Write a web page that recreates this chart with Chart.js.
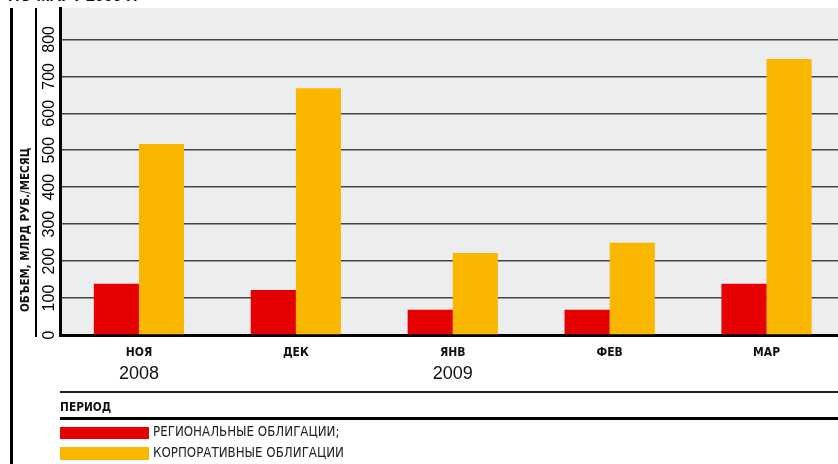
<!DOCTYPE html>
<html lang="ru">
<head>
<meta charset="UTF-8">
<title>Облигации</title>
<script src="https://cdn.jsdelivr.net/npm/chart.js"></script>
<style>
  body { margin: 0; width: 838px; height: 464px; overflow: hidden; background: #fff; position: relative; font-family: "Liberation Sans", Arial, sans-serif; }
  .abs { position: absolute; }
  #wrap { position: absolute; left: 0; top: 0; width: 845px; height: 464px; }
  .cond { font-family: "DejaVu Sans Condensed", "DejaVu Sans", sans-serif; }
</style>
</head>
<body>
  <!-- cut off heading at the very top -->
  <div class="abs" style="left:8px; top:-13px; font-weight:bold; font-size:16px; color:#111;">ПО МАРТ 2009 Г.</div>

  <div id="wrap"><canvas id="bonds"></canvas></div>

  <!-- frame lines -->
  <div class="abs" style="left:10px; top:8px; width:3px; height:456px; background:#000;"></div>
  <div class="abs" style="left:35px; top:8px; width:1.5px; height:329px; background:#000;"></div>

  <!-- y title -->
  <div class="abs cond" style="left:25px; top:312px; transform-origin:0 0; transform:rotate(-90deg) translateY(-50%); font-weight:bold; font-size:11.5px; color:#111; white-space:nowrap;">ОБЪЕМ, МЛРД РУБ./МЕСЯЦ</div>

  <!-- period block -->
  <div class="abs" style="left:60px; top:391px; width:790px; height:1.5px; background:#222;"></div>
  <div class="abs cond" style="left:60px; top:400px; font-weight:bold; font-size:11.8px; color:#111;">ПЕРИОД</div>
  <div class="abs" style="left:60px; top:417px; width:790px; height:3px; background:#000;"></div>

  <!-- legend -->
  <div class="abs" style="left:60px; top:427px; width:89px; height:12px; background:#E60000;"></div>
  <div class="abs cond" style="left:153px; top:424px; font-size:13.2px; color:#222;">РЕГИОНАЛЬНЫЕ ОБЛИГАЦИИ;</div>
  <div class="abs" style="left:60px; top:447px; width:89px; height:13px; background:#F9B700;"></div>
  <div class="abs cond" style="left:153px; top:445px; font-size:13.2px; color:#222;">КОРПОРАТИВНЫЕ ОБЛИГАЦИИ</div>

<script>
  const months = ['НОЯ', 'ДЕК', 'ЯНВ', 'ФЕВ', 'МАР'];
  const years = ['2008', '', '2009', '', ''];
  const regional = [139, 122, 68, 68, 139];
  const corporate = [517, 668, 222, 250, 747];
  const yTicks = [0, 100, 200, 300, 400, 500, 600, 700, 800];
  const yTop = 885;

  const plotBg = {
    id: 'plotBg',
    beforeDraw(chart) {
      const { ctx, chartArea: a } = chart;
      ctx.save();
      ctx.fillStyle = '#ECEDEF';
      ctx.fillRect(a.left, a.top, a.right - a.left, a.bottom - a.top);
      ctx.restore();
    }
  };

  new Chart(document.getElementById('bonds'), {
    type: 'bar',
    data: {
      labels: months,
      datasets: [
        { label: 'Региональные облигации', data: regional, backgroundColor: '#E60000' },
        { label: 'Корпоративные облигации', data: corporate, backgroundColor: '#F9B700' }
      ]
    },
    options: {
      responsive: true,
      maintainAspectRatio: false,
      animation: false,
      categoryPercentage: 0.575,
      barPercentage: 1.0,
      layout: { padding: { top: 8, left: 0, right: 0, bottom: 0 } },
      plugins: { legend: { display: false }, tooltip: { enabled: false } },
      scales: {
        x: {
          position: 'bottom',
          weight: 0,
          grid: { display: false, drawTicks: false },
          border: { color: '#000', width: 3 },
          ticks: { color: '#111', padding: 11, font: { family: 'DejaVu Sans Condensed', weight: 'bold', size: 12 } },
          afterFit(s) { s.height = 30; }
        },
        year: {
          type: 'category',
          labels: years,
          position: 'bottom',
          weight: 1,
          offset: true,
          grid: { display: false, drawTicks: false },
          border: { display: false },
          ticks: { color: '#111', padding: -2, font: { family: 'Liberation Sans', size: 18 } },
          afterFit(s) { s.height = 99; }
        },
        y: {
          min: 0,
          max: yTop,
          grid: { color: '#444', lineWidth: 1.6, drawTicks: false },
          border: { color: '#000', width: 3 },
          ticks: {
            autoSkip: false,
            minRotation: 90,
            maxRotation: 90,
            crossAlign: 'center',
            padding: -2,
            color: '#000',
            font: { family: 'Liberation Sans', size: 16 }
          },
          afterBuildTicks(s) { s.ticks = yTicks.map(v => ({ value: v })); },
          afterFit(s) { s.width = 60.5; }
        }
      }
    },
    plugins: [plotBg]
  });
</script>
</body>
</html>
